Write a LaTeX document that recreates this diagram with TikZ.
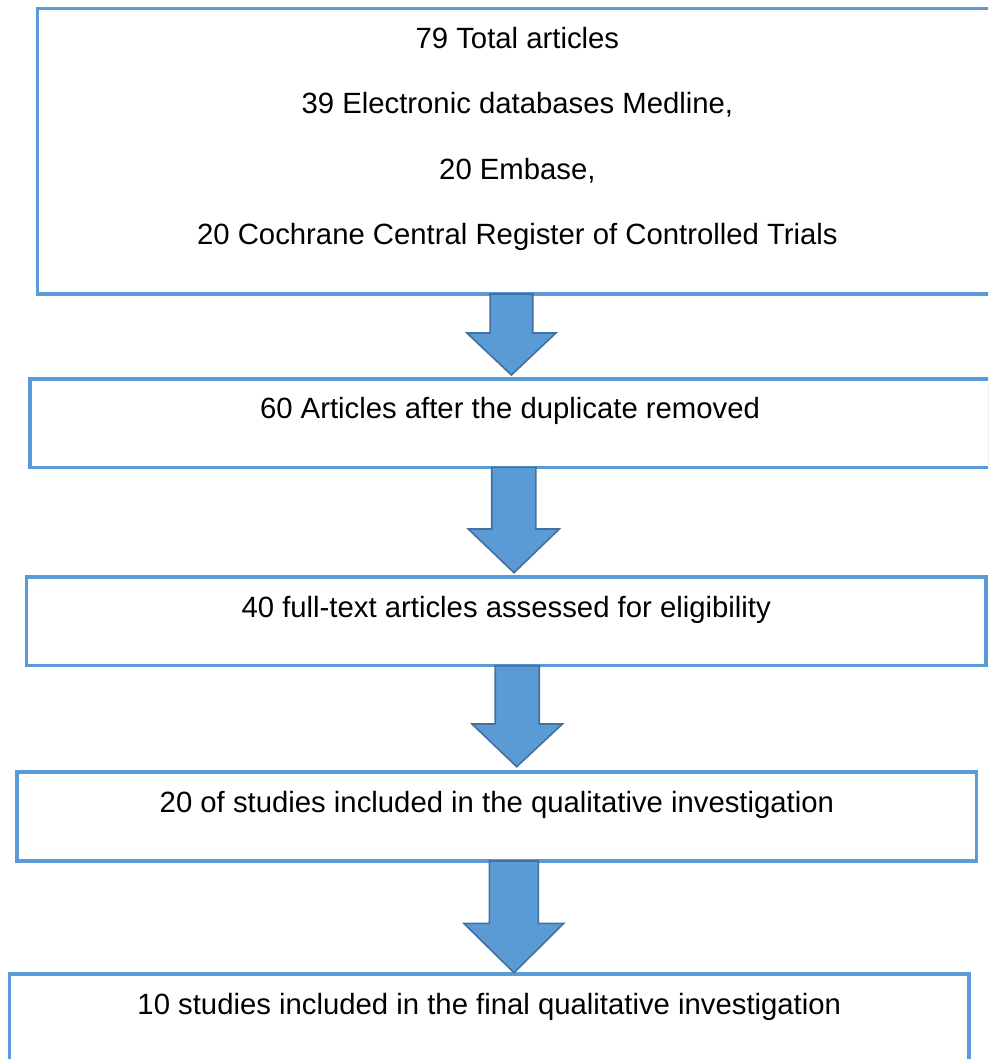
\documentclass[tikz,border=0pt]{standalone}
\usepackage{fontspec}
\setmainfont{Liberation Sans}
\definecolor{boxblue}{HTML}{5B9BD5}
\definecolor{arrowline}{HTML}{41719C}
\tikzset{
  flowbox/.style={draw=boxblue, line width=3.6pt, minimum width=959.5pt, inner sep=0pt, outer sep=0pt},
  flowtext/.style={font=\fontsize{29.3}{35}\selectfont, anchor=base, inner sep=0pt, text=black},
  blockarrow/.style={fill=boxblue, draw=arrowline, line width=1.6pt, line join=miter}
}
\newcommand\flowarrow[7]{% cx, shaft half, head half, top, neck, tip, tip offset
  \draw[blockarrow] (#1-#2,#4) -- (#1-#2,#5) -- (#1-#3,#5) -- (#1+#7,#6) -- (#1+#3,#5) -- (#1+#2,#5) -- (#1+#2,#4) -- cycle;}
\begin{document}
\begin{tikzpicture}[x=1pt,y=-1pt]
\useasboundingbox (0,0) rectangle (988,1059);
\clip (0,0) rectangle (988,1059);
% boxes
\node[flowbox, minimum height=285.7pt] (b1) at (517.4,151.2) {};
\node[flowbox, minimum height=88.6pt] (b2) at (510,423) {};
\node[flowbox, minimum height=88.6pt] (b3) at (506.2,621.3) {};
\node[flowbox, minimum height=89pt] (b4) at (496.9,816.5) {};
\node[flowbox, minimum height=89pt] (b5) at (489.3,1018.5) {};
% texts
\node[flowtext] (t1a) at (517.4,48.3) {79 Total articles};
\node[flowtext] (t1b) at (517.4,113.7) {39 Electronic databases Medline,};
\node[flowtext] (t1c) at (517.4,179.1) {20 Embase,};
\node[flowtext] (t1d) at (517.4,244.5) {20 Cochrane Central Register of Controlled Trials};
\node[flowtext] (t2) at (510,418.3) {60 Articles after the duplicate removed};
\node[flowtext] (t3) at (506.2,617.4) {40 full-text articles assessed for eligibility};
\node[flowtext] (t4) at (496.9,812.3) {20 of studies included in the qualitative investigation};
\node[flowtext] (t5) at (489.3,1014.3) {10 studies included in the final qualitative investigation};
% block arrows between boxes
\flowarrow{511.4}{21.3}{44.5}{294}{333}{375}{0}
\flowarrow{513.8}{22.1}{45.5}{467.3}{529}{572.7}{0.2}
\flowarrow{517.2}{22}{45.2}{665.7}{724}{766.7}{-0.5}
\flowarrow{513.8}{24.5}{50}{861}{923.3}{972.7}{0.2}
\end{tikzpicture}
\end{document}
